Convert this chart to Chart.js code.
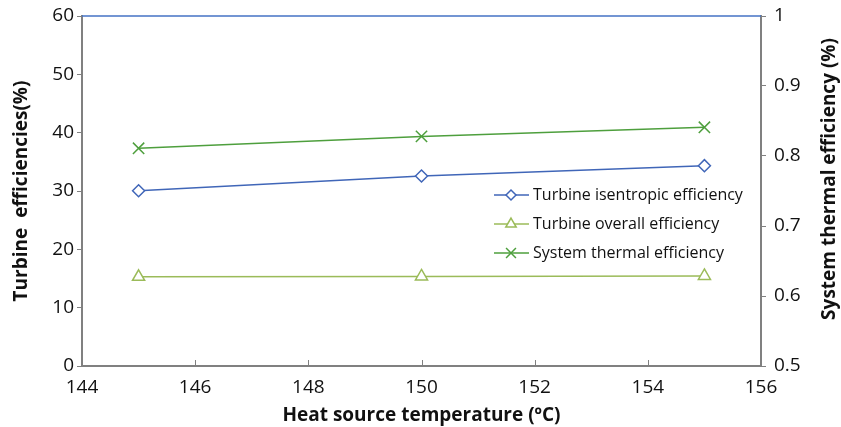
<!DOCTYPE html>
<html>
<head>
<meta charset="utf-8">
<script src="https://cdn.jsdelivr.net/npm/chart.js@4"></script>
<style>
  html, body { margin: 0; padding: 0; background: #fff; }
  #wrap { width: 841px; height: 427px; }
</style>
</head>
<body>
<div id="wrap"><canvas id="chart" width="841" height="427"></canvas></div>
<script>
const temps = [145, 150, 155];
const isentropic = [30.05, 32.57, 34.34];
const overall = [15.3, 15.35, 15.45];
const thermal = [0.811, 0.828, 0.841];
const xTicks = [144, 146, 148, 150, 152, 154, 156];
const rightTitle = 'System thermal efficiency (%)';

const FONT = '"Open Sans", "Liberation Sans", sans-serif';
const axisGray = '#808080';

function pts(ys) {
    return temps.map((t, i) => ({ x: t, y: ys[i] }));
}

// legend inside the plot area, top border, inward x ticks, right title read upwards
const extras = {
    id: 'extras',
    afterDraw(chart) {
        const ctx = chart.ctx;
        const a = chart.chartArea;
        const xs = chart.scales.x;
        ctx.save();
        ctx.strokeStyle = '#4472C4';
        ctx.lineWidth = 1.5;
        ctx.beginPath();
        ctx.moveTo(a.left, a.top);
        ctx.lineTo(a.right, a.top);
        ctx.stroke();

        ctx.strokeStyle = axisGray;
        ctx.lineWidth = 1;
        xTicks.slice(1, -1).forEach(v => {
            const px = Math.round(xs.getPixelForValue(v)) + 0.5;
            ctx.beginPath();
            ctx.moveTo(px, a.bottom);
            ctx.lineTo(px, a.bottom - 6);
            ctx.stroke();
        });

        // legend
        let y = 195;
        const x0 = 494;
        chart.data.datasets.forEach(ds => {
            ctx.strokeStyle = ds.borderColor;
            ctx.fillStyle = '#ffffff';
            ctx.lineWidth = 1.5;
            ctx.beginPath();
            ctx.moveTo(x0, y);
            ctx.lineTo(x0 + 35, y);
            ctx.stroke();
            Chart.helpers.drawPoint(ctx, {
                pointStyle: ds.pointStyle,
                radius: ds.pointRadius - 1,
                rotation: 0,
                borderWidth: 1.5
            }, x0 + 17, y);
            ctx.fillStyle = '#111';
            ctx.font = '16px ' + FONT;
            ctx.textBaseline = 'middle';
            ctx.textAlign = 'left';
            ctx.fillText(ds.label, x0 + 39, y);
            y += 29;
        });

        // right axis title, rotated to read bottom to top
        ctx.translate(830, (a.top + a.bottom) / 2 - 12);
        ctx.rotate(-Math.PI / 2);
        ctx.fillStyle = '#111';
        ctx.font = 'bold 19px ' + FONT;
        ctx.textAlign = 'center';
        ctx.textBaseline = 'middle';
        ctx.fillText(rightTitle, 0, 0);
        ctx.restore();
    }
};

new Chart(document.getElementById('chart'), {
    type: 'line',
    data: {
        datasets: [
            {
                label: 'Turbine isentropic efficiency',
                data: pts(isentropic),
                yAxisID: 'y',
                borderColor: '#4066B8',
                backgroundColor: '#ffffff',
                borderWidth: 1.5,
                pointStyle: 'rectRot',
                pointRadius: 6,
                pointBorderWidth: 1.5
            },
            {
                label: 'Turbine overall efficiency',
                data: pts(overall),
                yAxisID: 'y',
                borderColor: '#9BBB59',
                backgroundColor: '#ffffff',
                borderWidth: 1.5,
                pointStyle: 'triangle',
                pointRadius: 7,
                pointBorderWidth: 1.5
            },
            {
                label: 'System thermal efficiency',
                data: pts(thermal),
                yAxisID: 'y2',
                borderColor: '#4E9F3D',
                backgroundColor: '#ffffff',
                borderWidth: 1.5,
                pointStyle: 'crossRot',
                pointRadius: 8,
                pointBorderWidth: 1.5
            }
        ]
    },
    options: {
        responsive: false,
        animation: false,
        layout: { padding: { top: 16, right: 0, left: 0, bottom: 0 } },
        plugins: {
            legend: { display: false },
            tooltip: { enabled: false }
        },
        scales: {
            x: {
                type: 'linear',
                min: 144,
                max: 156,
                afterBuildTicks: s => { s.ticks = xTicks.map(v => ({ value: v })); },
                afterFit: s => { s.height = 61; s.paddingLeft = 0; s.paddingRight = 0; },
                grid: { display: false },
                border: { color: axisGray, width: 2 },
                ticks: { color: '#111', font: { family: FONT, size: 19 }, padding: 2, maxRotation: 0 },
                title: {
                    display: true,
                    text: 'Heat source temperature (ºC)',
                    color: '#111',
                    font: { family: FONT, size: 19, weight: 'bold' },
                    padding: { top: 2, bottom: 0 }
                }
            },
            y: {
                position: 'left',
                min: 0,
                max: 60,
                afterFit: s => { s.width = 82; s.paddingTop = 0; s.paddingBottom = 0; },
                grid: { drawOnChartArea: false, tickLength: 5, color: axisGray },
                border: { color: axisGray, width: 2 },
                ticks: { stepSize: 10, color: '#111', font: { family: FONT, size: 19 }, padding: 3 },
                title: {
                    display: true,
                    text: 'Turbine  efficiencies(%)',
                    color: '#111',
                    font: { family: FONT, size: 19, weight: 'bold' },
                    padding: { top: 10, bottom: 2 }
                }
            },
            y2: {
                position: 'right',
                min: 0.5,
                max: 1,
                afterFit: s => { s.width = 80; s.paddingTop = 0; s.paddingBottom = 0; },
                grid: { drawOnChartArea: false, tickLength: 5, color: axisGray },
                border: { color: axisGray, width: 2 },
                ticks: {
                    stepSize: 0.1,
                    color: '#111',
                    font: { family: FONT, size: 19 },
                    padding: 8,
                    callback: v => String(Math.round(v * 10) / 10)
                }
            }
        }
    },
    plugins: [extras]
});
</script>
</body>
</html>
